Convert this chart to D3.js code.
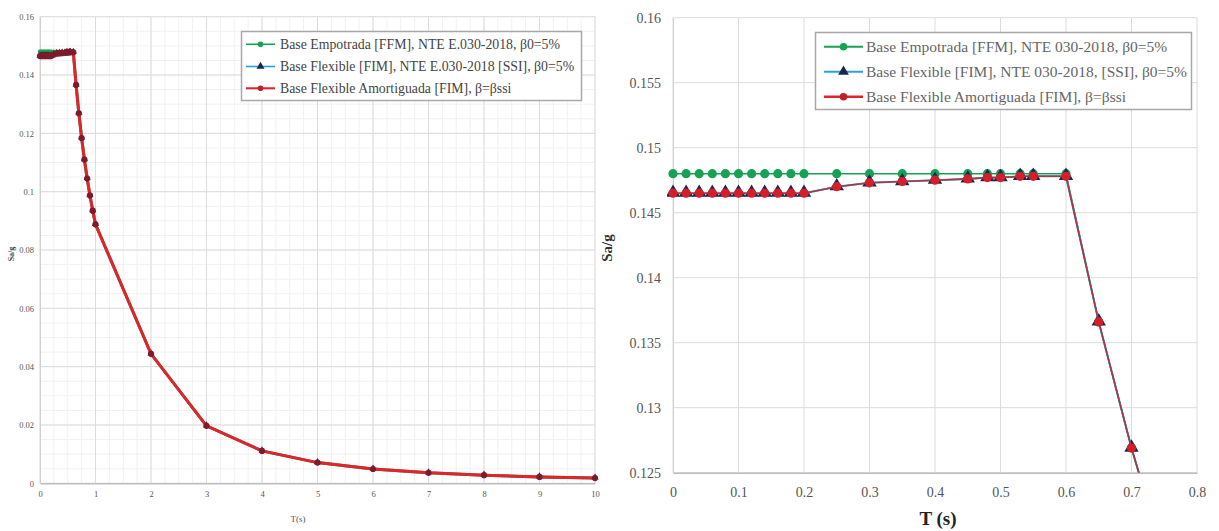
<!DOCTYPE html>
<html>
<head>
<meta charset="utf-8">
<script src="https://cdn.jsdelivr.net/npm/d3@7"></script>
<style>
  html, body { margin: 0; padding: 0; background: #fff; }
  svg { display: block; }
  text { font-family: "Liberation Serif", "DejaVu Serif", "Times New Roman", serif; }
</style>
</head>
<body>
<svg id="chart" width="1219" height="531"></svg>
<script>
// Periods T (s) at which the spectra are evaluated
const periods = [0, 0.02, 0.04, 0.06, 0.08, 0.1, 0.12, 0.14, 0.16, 0.18, 0.2,
  0.25, 0.3, 0.35, 0.4, 0.45, 0.48, 0.5, 0.53, 0.55, 0.6,
  0.65, 0.7, 0.75, 0.8, 0.85, 0.9, 0.95, 1, 2, 3, 4, 5, 6, 7, 8, 9, 10];

// Sa/g – fixed base (FFM), NTE E.030-2018, beta0 = 5%
const saFixed = [0.148, 0.148, 0.148, 0.148, 0.148, 0.148, 0.148, 0.148, 0.148, 0.148, 0.148,
  0.148, 0.148, 0.148, 0.148, 0.148, 0.148, 0.148, 0.148, 0.148, 0.148,
  0.1366, 0.1269, 0.1184, 0.1110, 0.1045, 0.0987, 0.0935, 0.0888,
  0.0444, 0.0197, 0.0111, 0.0071, 0.0049, 0.0036, 0.0028, 0.0022, 0.0018];

// Sa/g – flexible base (FIM), NTE E.030-2018 (SSI), beta0 = 5%
const saFlexible = [0.1465, 0.1465, 0.1465, 0.1465, 0.1465, 0.1465, 0.1465, 0.1465, 0.1465, 0.1465, 0.1465,
  0.1470, 0.1473, 0.1474, 0.1475, 0.1476, 0.1477, 0.1477, 0.1478, 0.1478, 0.1478,
  0.1366, 0.1269, 0.1184, 0.1110, 0.1045, 0.0987, 0.0935, 0.0888,
  0.0444, 0.0197, 0.0111, 0.0071, 0.0049, 0.0036, 0.0028, 0.0022, 0.0018];

// Sa/g – damped flexible base (FIM), beta = beta_ssi
const saFlexibleDamped = [0.1465, 0.1465, 0.1465, 0.1465, 0.1465, 0.1465, 0.1465, 0.1465, 0.1465, 0.1465, 0.1465,
  0.1470, 0.1473, 0.1474, 0.1475, 0.1476, 0.1477, 0.1477, 0.1478, 0.1478, 0.1478,
  0.1366, 0.1269, 0.1184, 0.1110, 0.1045, 0.0987, 0.0935, 0.0888,
  0.0444, 0.0197, 0.0111, 0.0071, 0.0049, 0.0036, 0.0028, 0.0022, 0.0018];

const seriesNamesFull = [
  "Base Empotrada [FFM], NTE E.030-2018, β0=5%",
  "Base Flexible [FIM], NTE E.030-2018 [SSI], β0=5%",
  "Base Flexible Amortiguada [FIM], β=βssi"
];
const seriesNamesZoom = [
  "Base Empotrada [FFM], NTE 030-2018, β0=5%",
  "Base Flexible [FIM], NTE 030-2018, [SSI], β0=5%",
  "Base Flexible Amortiguada [FIM], β=βssi"
];

const fullXTicks = [0, 1, 2, 3, 4, 5, 6, 7, 8, 9, 10];
const fullYTicks = [0, 0.02, 0.04, 0.06, 0.08, 0.1, 0.12, 0.14, 0.16];
const fullYLabels = ["0", "0.02", "0.04", "0.06", "0.08", "0.1", "0.12", "0.14", "0.16"];
const zoomXTicks = [0, 0.1, 0.2, 0.3, 0.4, 0.5, 0.6, 0.7, 0.8];
const zoomYTicks = [0.125, 0.13, 0.135, 0.14, 0.145, 0.15, 0.155, 0.16];

const GREEN = "#16a155", BLUE = "#2b9fd8", NAVY = "#1c2551", RED = "#e3232a";

const svg = d3.select("#chart");
const defs = svg.append("defs");

const rows = periods.map((t, i) => ({
  t, fixed: saFixed[i], flex: saFlexible[i], damped: saFlexibleDamped[i]
}));

function panel(cfg) {
  const g = svg.append("g");
  const x = d3.scaleLinear().domain(cfg.xDomain).range([cfg.left, cfg.right]);
  const y = d3.scaleLinear().domain(cfg.yDomain).range([cfg.bottom, cfg.top]);

  // minor grid
  if (cfg.minorX) {
    g.append("g").selectAll("line").data(cfg.minorX).join("line")
      .attr("x1", d => x(d)).attr("x2", d => x(d))
      .attr("y1", cfg.top).attr("y2", cfg.bottom)
      .attr("stroke", "#f1f1f1").attr("stroke-width", 1);
    g.append("g").selectAll("line").data(cfg.minorY).join("line")
      .attr("y1", d => y(d)).attr("y2", d => y(d))
      .attr("x1", cfg.left).attr("x2", cfg.right)
      .attr("stroke", "#f1f1f1").attr("stroke-width", 1);
  }
  // major grid
  g.append("g").selectAll("line").data(cfg.xTicks).join("line")
    .attr("x1", d => x(d)).attr("x2", d => x(d))
    .attr("y1", cfg.top).attr("y2", cfg.bottom)
    .attr("stroke", "#dcdcdc").attr("stroke-width", 1);
  g.append("g").selectAll("line").data(cfg.yTicks).join("line")
    .attr("y1", d => y(d)).attr("y2", d => y(d))
    .attr("x1", cfg.left).attr("x2", cfg.right)
    .attr("stroke", "#dcdcdc").attr("stroke-width", 1);

  // axes
  const xAxis = d3.axisBottom(x).tickValues(cfg.xTicks).tickSize(0).tickPadding(cfg.xPad)
    .tickFormat(cfg.xFormat);
  const gx = g.append("g").attr("transform", `translate(0,${cfg.bottom})`).call(xAxis);
  gx.attr("font-family", null);
  gx.select(".domain").attr("stroke", "#bdbdbd").attr("stroke-width", 1.5);
  gx.selectAll("text").attr("font-size", cfg.tickFont).attr("fill", "#555");

  const yAxis = d3.axisLeft(y).tickValues(cfg.yTicks).tickSize(0).tickPadding(cfg.yPad)
    .tickFormat(cfg.yFormat);
  const gy = g.append("g").attr("transform", `translate(${cfg.left},0)`).call(yAxis);
  gy.attr("font-family", null);
  gy.select(".domain").attr("stroke", "#d0d0d0");
  gy.selectAll("text").attr("font-size", cfg.tickFont).attr("fill", "#555");

  // clipping to the plot area
  const clipId = "clip-" + cfg.id;
  defs.append("clipPath").attr("id", clipId).append("rect")
    .attr("x", cfg.left - 6).attr("y", cfg.top - 6)
    .attr("width", cfg.right - cfg.left + 12).attr("height", cfg.bottom - cfg.top + 6);
  const plot = g.append("g").attr("clip-path", `url(#${clipId})`);
  defs.append("clipPath").attr("id", clipId + "-in").append("rect")
    .attr("x", cfg.left).attr("y", cfg.top)
    .attr("width", cfg.right - cfg.left).attr("height", cfg.bottom - cfg.top);

  const visible = rows.filter(d => d.t <= cfg.xDomain[1] + 1e-9);
  const lineOf = key => d3.line().x(d => x(d.t)).y(d => y(d[key]));
  const pts = visible.filter(d => d.damped >= cfg.yDomain[0] - 1e-9);

  // green – fixed base
  plot.append("path").datum(visible).attr("d", lineOf("fixed"))
    .attr("fill", "none").attr("stroke", GREEN).attr("stroke-width", cfg.greenWidth)
    .attr("clip-path", `url(#${clipId}-in)`);
  plot.append("g").selectAll("circle").data(visible.filter(d => d.fixed >= cfg.yDomain[0]))
    .join("circle").attr("cx", d => x(d.t)).attr("cy", d => y(d.fixed))
    .attr("r", cfg.circleR).attr("fill", GREEN);

  // blue – flexible base
  plot.append("path").datum(visible).attr("d", lineOf("flex"))
    .attr("fill", "none").attr("stroke", BLUE).attr("stroke-width", cfg.blueWidth)
    .attr("clip-path", `url(#${clipId}-in)`);
  plot.append("g").selectAll("path").data(pts).join("path")
    .attr("d", d3.symbol(d3.symbolTriangle, cfg.triSize))
    .attr("transform", d => `translate(${x(d.t)},${y(d.flex) - 0.5})`)
    .attr("fill", cfg.triColor);

  // red – damped flexible base
  plot.append("path").datum(visible).attr("d", lineOf("damped"))
    .attr("fill", "none").attr("stroke", cfg.redLine).attr("stroke-width", cfg.redWidth)
    .attr("clip-path", `url(#${clipId}-in)`);
  plot.append("g").selectAll("circle").data(pts).join("circle")
    .attr("cx", d => x(d.t)).attr("cy", d => y(d.damped))
    .attr("r", cfg.redR).attr("fill", cfg.redMarker);

  return { g, x, y };
}

// ---------- full spectrum (0–10 s) ----------
const left = panel({
  id: "full", left: 40, right: 595, top: 16.7, bottom: 483.3,
  xDomain: [0, 10], yDomain: [0, 0.16],
  xTicks: fullXTicks, yTicks: fullYTicks,
  minorX: d3.range(0, 10.01, 0.25), minorY: d3.range(0, 0.1601, 0.005),
  xFormat: d => d3.format("d")(d), yFormat: (d, i) => fullYLabels[i],
  xPad: 8, yPad: 6, tickFont: "8.5px",
  greenWidth: 3, blueWidth: 1.5, redWidth: 3, redLine: RED,
  circleR: 2.2, triSize: 22, triColor: "#5a1626", redR: 3.1, redMarker: "#7d1b2c"
});
left.g.append("text").attr("x", 298).attr("y", 522).attr("text-anchor", "middle")
  .attr("font-size", "9px").attr("fill", "#555").text("T(s)");
left.g.append("text").attr("transform", "translate(14,254) rotate(-90)")
  .attr("text-anchor", "middle").attr("font-size", "8px").attr("font-weight", "bold")
  .attr("fill", "#444").text("Sa/g");

// ---------- detail (0–0.8 s) ----------
const right = panel({
  id: "zoom", left: 673, right: 1197, top: 17.7, bottom: 472.7,
  xDomain: [0, 0.8], yDomain: [0.125, 0.16],
  xTicks: zoomXTicks, yTicks: zoomYTicks,
  xFormat: d => d3.format("~g")(d), yFormat: d => d3.format("~g")(d),
  xPad: 14, yPad: 12, tickFont: "14px",
  greenWidth: 1.6, blueWidth: 2, redWidth: 1.6, redLine: "#b3343b",
  circleR: 4.6, triSize: 90, triColor: NAVY, redR: 4.6, redMarker: "#d41f2b"
});
right.g.append("text").attr("x", 938).attr("y", 525).attr("text-anchor", "middle")
  .attr("font-size", "19px").attr("font-weight", "bold").attr("fill", "#222").text("T (s)");
right.g.append("text").attr("transform", "translate(612,248) rotate(-90)")
  .attr("text-anchor", "middle").attr("font-size", "15px").attr("font-weight", "bold")
  .attr("fill", "#333").text("Sa/g");

// ---------- legends ----------
function legend(cfg) {
  const g = svg.append("g");
  g.append("rect").attr("x", cfg.x0).attr("y", cfg.y0)
    .attr("width", cfg.x1 - cfg.x0).attr("height", cfg.y1 - cfg.y0)
    .attr("fill", "#fff").attr("stroke", "#a8a8a8").attr("stroke-width", 1.5);
  const styles = [
    { color: GREEN, width: cfg.lw, marker: "circle", mcolor: GREEN },
    { color: BLUE, width: cfg.lw, marker: "triangle", mcolor: NAVY },
    { color: RED, width: cfg.lw + 0.5, marker: "circle", mcolor: "#c0202a" }
  ];
  cfg.names.forEach((name, i) => {
    const yy = cfg.rows[i], s = styles[i];
    g.append("line").attr("x1", cfg.lx0).attr("x2", cfg.lx1).attr("y1", yy).attr("y2", yy)
      .attr("stroke", s.color).attr("stroke-width", s.width);
    const mx = (cfg.lx0 + cfg.lx1) / 2;
    if (s.marker === "circle") {
      g.append("circle").attr("cx", mx).attr("cy", yy).attr("r", cfg.mr).attr("fill", s.mcolor);
    } else {
      g.append("path").attr("d", d3.symbol(d3.symbolTriangle, cfg.tri))
        .attr("transform", `translate(${mx},${yy})`).attr("fill", s.mcolor);
    }
    g.append("text").attr("x", cfg.tx).attr("y", yy).attr("dy", "0.35em")
      .attr("font-size", cfg.font).attr("fill", cfg.textColor).text(name);
  });
}

legend({
  x0: 241.5, x1: 581.5, y0: 31.5, y1: 100.5,
  rows: [44.3, 66.5, 88.3], lx0: 246, lx1: 275, tx: 280,
  names: seriesNamesFull, font: "13.8px", textColor: "#444",
  lw: 1.6, mr: 2.8, tri: 28
});
legend({
  x0: 815.5, x1: 1191.5, y0: 32.5, y1: 109.5,
  rows: [46.7, 71.7, 96.7], lx0: 824, lx1: 863, tx: 866,
  names: seriesNamesZoom, font: "15.5px", textColor: "#666",
  lw: 2, mr: 3.8, tri: 50
});
</script>
</body>
</html>
